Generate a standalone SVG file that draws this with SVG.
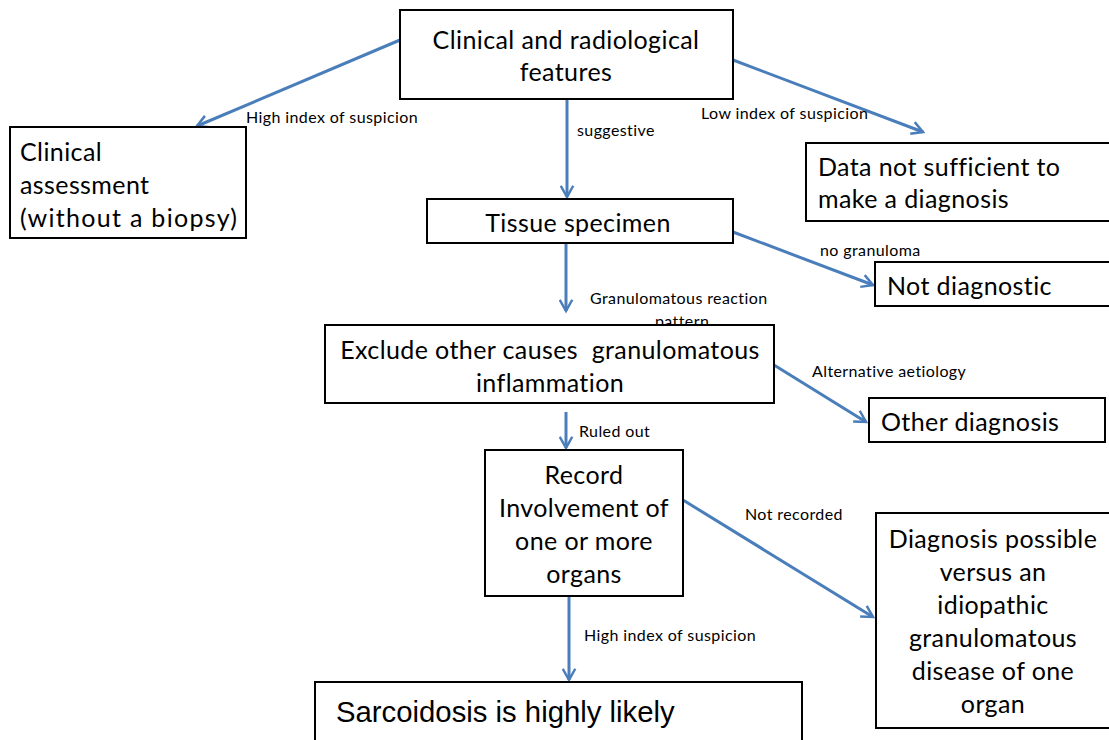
<svg xmlns="http://www.w3.org/2000/svg" width="1109" height="740" viewBox="0 0 1109 740">
<style>
.box{fill:#fff;stroke:#000;stroke-width:2}
.t{font-family:Lato,"Open Sans",sans-serif;font-size:25px;letter-spacing:0.4px;fill:#000;white-space:pre}
.c{text-anchor:middle}
.lbl{font-family:Lato,"Open Sans",sans-serif;font-size:16px;letter-spacing:0.4px;fill:#000}
.ar{stroke:#4a7ebb;stroke-width:3;fill:none;marker-end:url(#ah)}
</style>
<defs>
<marker id="ah" viewBox="0 0 12 12" refX="10" refY="6" markerWidth="5" markerHeight="5" markerUnits="strokeWidth" orient="auto">
<path d="M1,1 L10,6 L1,11" fill="none" stroke="#4a7ebb" stroke-width="2"/>
</marker>
</defs>
<rect width="1109" height="740" fill="#fff"/>
<g id="connectors">
<line class="ar" x1="400" y1="40" x2="197" y2="126"/>
<text class="lbl" x="246" y="123">High index of suspicion</text>
<line class="ar" x1="567" y1="99" x2="567" y2="197"/>
<text class="lbl" x="577" y="136">suggestive</text>
<line class="ar" x1="733" y1="60" x2="923" y2="132"/>
<text class="lbl" x="701" y="119">Low index of suspicion</text>
<line class="ar" x1="733" y1="232" x2="873" y2="285"/>
<text class="lbl" x="820" y="256">no granuloma</text>
<line class="ar" x1="566" y1="243" x2="566" y2="311"/>
<text class="lbl" x="590" y="304">Granulomatous reaction</text>
<text class="lbl" x="655" y="327">pattern</text>
<line class="ar" x1="774" y1="365" x2="866" y2="422"/>
<text class="lbl" x="812" y="377">Alternative aetiology</text>
<line class="ar" x1="566" y1="412" x2="566" y2="448"/>
<text class="lbl" x="579" y="437">Ruled out</text>
<line class="ar" x1="683" y1="500" x2="873" y2="617"/>
<text class="lbl" x="745" y="520">Not recorded</text>
<line class="ar" x1="569" y1="596" x2="569" y2="680"/>
<text class="lbl" x="584" y="641">High index of suspicion</text>
</g>
<g id="n-clinical-radiological">
<rect class="box" x="400" y="10" width="333" height="89"/>
<text class="t c" x="566" y="49">Clinical and radiological</text>
<text class="t c" x="566" y="81">features</text>
</g>
<g id="n-clinical-assessment">
<rect class="box" x="10" y="127" width="236" height="111"/>
<text class="t" x="20" y="161">Clinical</text>
<text class="t" x="20" y="194">assessment</text>
<text class="t" x="20" y="227" style="letter-spacing:1.3px">(without a biopsy)</text>
</g>
<g id="n-data-not-sufficient">
<rect class="box" x="806" y="143" width="310" height="78"/>
<text class="t" x="818" y="176">Data not sufficient to</text>
<text class="t" x="818" y="208">make a diagnosis</text>
</g>
<g id="n-tissue">
<rect class="box" x="427" y="199" width="306" height="44"/>
<text class="t c" x="578" y="232">Tissue specimen</text>
</g>
<g id="n-not-diagnostic">
<rect class="box" x="875" y="262" width="240" height="44"/>
<text class="t" x="887" y="295">Not diagnostic</text>
</g>
<g id="n-exclude">
<rect class="box" x="325" y="325" width="449" height="78"/>
<text class="t c" x="550" y="359">Exclude other causes  granulomatous</text>
<text class="t c" x="550" y="392">inflammation</text>
</g>
<g id="n-other-diagnosis">
<rect class="box" x="869" y="398" width="236" height="44"/>
<text class="t" x="881" y="431">Other diagnosis</text>
</g>
<g id="n-record">
<rect class="box" x="485" y="450" width="198" height="146"/>
<text class="t c" x="584" y="484">Record</text>
<text class="t c" x="584" y="517">Involvement of</text>
<text class="t c" x="584" y="550">one or more</text>
<text class="t c" x="584" y="583">organs</text>
</g>
<g id="n-diagnosis-possible">
<rect class="box" x="876" y="513" width="240" height="215"/>
<text class="t c" x="993" y="548">Diagnosis possible</text>
<text class="t c" x="993" y="581">versus an</text>
<text class="t c" x="993" y="614">idiopathic</text>
<text class="t c" x="993" y="647">granulomatous</text>
<text class="t c" x="993" y="680">disease of one</text>
<text class="t c" x="993" y="713">organ</text>
</g>
<g id="n-sarcoidosis">
<rect class="box" x="315" y="682" width="487" height="70"/>
<text x="336" y="722" style="font-family:'Liberation Sans',Arial,sans-serif;font-size:29.3px;fill:#000">Sarcoidosis is highly likely</text>
</g>
</svg>
